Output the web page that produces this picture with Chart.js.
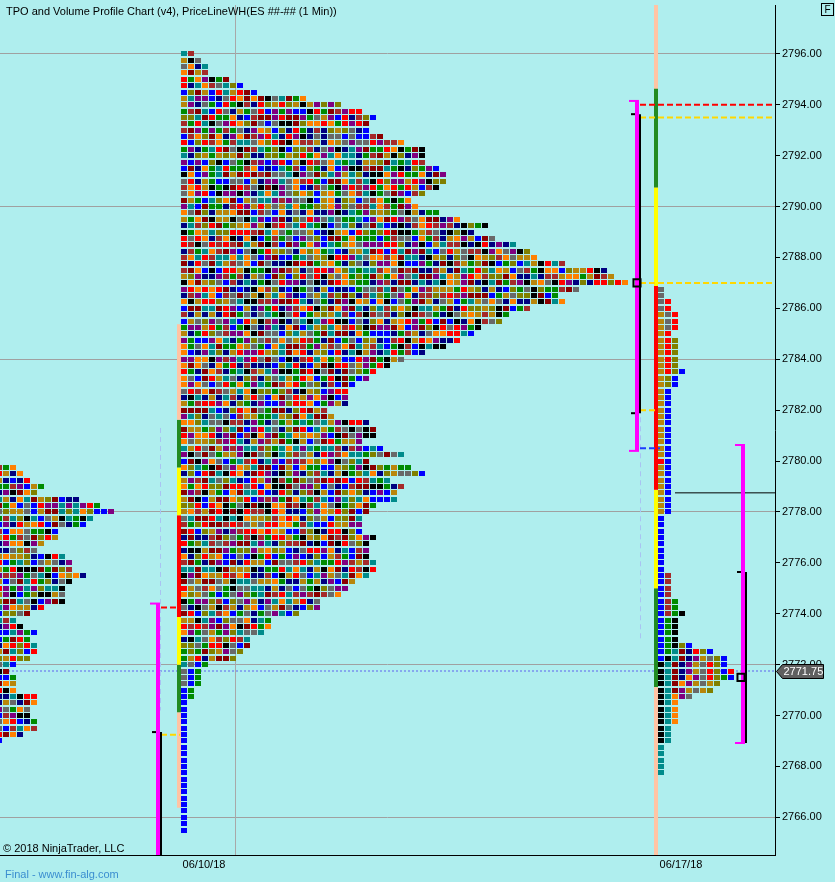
<!DOCTYPE html>
<html><head><meta charset="utf-8">
<script src="https://cdn.jsdelivr.net/npm/chart.js@4.4.0/dist/chart.umd.min.js"></script>
<style>
html,body{margin:0;padding:0;background:#AFEEEE;}
#wrap{position:relative;width:835px;height:882px;overflow:hidden;}
canvas{display:block;}
.t{position:absolute;font-family:"Liberation Sans",Arial,sans-serif;font-size:11px;white-space:nowrap;line-height:13px;color:#000;}
</style></head><body>
<div id="wrap"><canvas id="c" width="835" height="882"></canvas>
<div class="t" style="left:6px;top:5px;">TPO and Volume Profile Chart (v4), PriceLineWH(ES ##-## (1 Min))</div>
<div class="t" style="left:3px;top:842px;">© 2018 NinjaTrader, LLC</div>
<div class="t" style="left:5px;top:868px;color:#3B8ED0;">Final - www.fin-alg.com</div>
<div class="t" style="left:821px;top:3px;width:11px;height:11px;border:1px solid #000;text-align:center;line-height:11px;font-size:10px;">F</div>
</div>
<script>
// ---------------- DATA ----------------
const TICK = 0.25;
const xLabels = ['06/10/18', '06/17/18'];

// previous session (left, partly off-screen)
const leftTop = 2779.75;
const leftCounts = [3,4,5,7,6,12,15,17,14,13,9,9,7,6,10,11,11,13,11,10,10,10,7,5,3,4,6,5,6,6,5,3,2,3,3,3,6,6,5,5,6,6,4,1];

// 06/10 session (big profile)
const bigTop = 2796.0;
const bigCounts = [
  2,3,4,4,7,9,11,18,23,26,28,27,27,29,32,35,35,35,37,38,38,37,35,33,
  34,37,40,44,42,45,48,50,51,55,61,62,64,57,54,55,50,47,46,43,42,
  40,38,35,32,30,28,27,25,24,24,
  24,21,22,27,28,28,26,29,32,27,33,35,30,32,31,31,28,27,26,26,26,28,27,27,27,28,28,27,25,24,23,20,20,17,13,13,12,10,10,9,8,4,
  3,3,3,2,2,1,1,1,1,1,1,1,1,1,1,1,1,1,1,1,1,1,1,1,1,1
];

// 06/17 session (right profile)
const rightTop = 2786.75;
const rightCounts = [1,1,2,2,3,3,3,2,3,3,3,3,3,4,3,3,2,2,2,2,2,2,2,2,2,2,2,2,2,2,2,2,2,2,2,2,1,1,1,1,1,1,1,1,1,2,2,2,2,3,3,4,3,3,3,3,5,8,10,10,11,11,9,8,5,3,3,3,3,2,2,2,1,1,1,1,1];

// value-area / IB bars: boundaries (price) for each session
const bigBarLevels = [2785.375, 2781.625, 2779.75, 2777.875, 2773.875, 2772.0, 2770.125, 2766.375];
const rightBarLevels = [2794.625, 2790.75, 2786.875, 2778.875, 2775.0, 2771.125];

// range brackets [left, middle, right]
const rangeHigh = [2774.4, 2794.15, 2780.63];
const rangeLow  = [2764.0, 2780.4, 2768.92];
const ibHigh    = [2769.35, 2793.63, 2775.64];
const ibLow     = [2764.0, 2781.88, 2768.92];
const closeMark = [null, 2787.0, 2771.5];

// levels
const levelRed = [2774.25, 2794.0];
const levelGold = [2769.25, 2793.5, 2787.0, 2782.0];
const levelBlue = [2780.5];
const priceLineWH = 2778.75;
const lastPrice = 2771.75;

// ---------------- STYLE / LAYOUT ----------------
const Y_MIN = 2764.52, Y_MAX = 2797.92;
const SLOT = 7;                 // px per TPO slot
const X_MAX = 775 / SLOT;
const sl = px => px / SLOT;     // layout px -> slot units
const SESSION_START = { left: sl(-4), big: sl(181), right: sl(658) };
const CELL_CENTER = 3 / SLOT;
const X_TICK_SLOTS = [sl(204), sl(681)];

const PAL = {K:'#000000',T:'#008B8B',D:'#8B0000',N:'#000080',P:'#800080',G:'#B8860B',Y:'#696969',R:'#FF0000',O:'#808000',B:'#0000FF',W:'#A52A2A',E:'#008B00',A:'#FF8000'};
const HKEYS = 'KTDNPGYROBWEA'.split('');
const rightColorCodes = ['Y','Y','YR','YR','GYR','GYR','GYR','GR','GRO','GRO','GRO','GRO','GRO','GROB','GOB','GOB',
 'GB','GB','GB','GB','GB','GB','GB','GB','GB','GB','GB','RB','GB','GB','GB','GB','GB','GB','GB','GB',
 'B','B','B','B','B','B','B','B','B','BW','BW','BW','BW','BWE','BWE','BWEK','BEK','BEK','BEK','BEK','BEKOB',
 'BETDNROB','BKTDNPGYOB','KTDNPGYROB','KTDNPGYROBR','KTDNAPYROEB','KTDAPGYGO','KTDPGYGO','KTAPY','KTA','KTA','KTA','KTA',
 'KT','KT','KT','T','T','T','T','T'];
const TAIL = ['T','Y','B','E'];
const PEACH = '#FFC4A4', VGREEN = '#228B22', VYEL = '#FFFF00', VRED = '#FF0000', MAG = '#FF00FF', GOLD = '#FFD700';

function hashKey(seed, r, c) {
  let h = (Math.imul(seed + 11, 374761393) + Math.imul(r + 3, 668265263) + Math.imul(c + 5, 2246822519 | 0)) | 0;
  h = Math.imul(h ^ (h >>> 13), 1274126177);
  h ^= h >>> 16;
  return HKEYS[(h >>> 0) % HKEYS.length];
}

const IMG = {};
Object.keys(PAL).forEach(k => {
  const cv = document.createElement('canvas'); cv.width = 6; cv.height = 5;
  const g = cv.getContext('2d'); g.fillStyle = PAL[k]; g.fillRect(0, 0, 6, 5);
  IMG[k] = cv;
});

function buildProfile(top, counts, start, colorFn) {
  const pts = [], keys = [];
  counts.forEach((n, i) => {
    const price = top - i * TICK;
    for (let c = 0; c < n; c++) {
      pts.push({ x: start + c + CELL_CENTER, y: price });
      keys.push(colorFn(i, c, n, price));
    }
  });
  return { pts, keys };
}

const leftP = buildProfile(leftTop, leftCounts, SESSION_START.left, (i, c) => hashKey(1, i, c));
const bigP = buildProfile(bigTop, bigCounts, SESSION_START.big, (i, c, n, p) => {
  if (p <= 2772.0 && n === 1) return 'B';
  if (p <= 2772.0 && n <= 4) return TAIL[TAIL.length - n + c];
  return hashKey(2, i, c);
});
const rightP = buildProfile(rightTop, rightCounts, SESSION_START.right, (i, c) => (rightColorCodes[i] || 'B')[c] || 'B');

function cellDataset(P) {
  return {
    type: 'scatter', data: P.pts, order: 5,
    pointStyle: ctx => (ctx.dataIndex !== undefined ? IMG[P.keys[ctx.dataIndex]] : 'rect'),
    pointRadius: 3, pointHoverRadius: 3, borderWidth: 0
  };
}

function seg(x1, y1, x2, y2, color, width, dash, order) {
  return { type: 'line', showLine: true, data: [{ x: x1, y: y1 }, { x: x2, y: y2 }],
    borderColor: color, borderWidth: width, borderDash: dash || [], pointRadius: 0, pointHoverRadius: 0,
    fill: false, tension: 0, borderCapStyle: 'butt', order: order === undefined ? 1 : order };
}

const datasets = [];
// background lines
datasets.push(seg(sl(235.5), Y_MAX, sl(235.5), Y_MIN, '#A8A8A8', 1, [], 20));
datasets.push(seg(sl(656), Y_MAX, sl(656), Y_MIN, PEACH, 4, [], 19));
datasets.push(seg(0, lastPrice, X_MAX, lastPrice, '#86A8EE', 2, [2, 2], 18));
datasets.push(seg(sl(160.5), 2781.3, sl(160.5), 2770.2, '#A9C3F2', 1, [5, 4], 17));
datasets.push(seg(sl(640.5), 2789.5, sl(640.5), 2772.9, '#A9C3F2', 1, [5, 4], 17));

// TPO cells
datasets.push(cellDataset(leftP));
datasets.push(cellDataset(bigP));
datasets.push(cellDataset(rightP));

// VA / IB bars
const bigBarColors = [PEACH, VGREEN, VYEL, VRED, VYEL, VGREEN, PEACH];
for (let i = 0; i < bigBarLevels.length - 1; i++)
  datasets.push(seg(sl(179), bigBarLevels[i], sl(179), bigBarLevels[i + 1], bigBarColors[i], 4, [], 2));
const rightBarColors = [VGREEN, VYEL, VRED, VYEL, VGREEN];
for (let i = 0; i < rightBarLevels.length - 1; i++)
  datasets.push(seg(sl(656), rightBarLevels[i], sl(656), rightBarLevels[i + 1], rightBarColors[i], 4, [], 2));

// brackets
const magX = [158, 637, 743], blkX = [161, 640, 746];
for (let i = 0; i < 3; i++) {
  datasets.push(seg(sl(magX[i]), rangeHigh[i], sl(magX[i]), rangeLow[i], MAG, 4, [], 1));
  datasets.push(seg(sl(magX[i] - 8), rangeHigh[i], sl(magX[i] + 2), rangeHigh[i], MAG, 2, [], 1));
  datasets.push(seg(sl(magX[i] - 8), rangeLow[i], sl(magX[i] + 2), rangeLow[i], MAG, 2, [], 1));
  datasets.push(seg(sl(blkX[i]), ibHigh[i], sl(blkX[i]), ibLow[i], '#000', 2, [], 1));
  datasets.push(seg(sl(blkX[i] - 9), ibHigh[i], sl(blkX[i] - 1), ibHigh[i], '#000', 2, [], 1));
  datasets.push(seg(sl(blkX[i] - 9), ibLow[i], sl(blkX[i] - 1), ibLow[i], '#000', 2, [], 1));
}
datasets.push({ type: 'scatter', order: 0,
  data: [{ x: sl(637), y: closeMark[1] }, { x: sl(741), y: closeMark[2] }],
  pointStyle: 'rect', pointRadius: 5, pointHoverRadius: 5, borderColor: '#000', borderWidth: 2, backgroundColor: 'rgba(0,0,0,0)' });

// levels
datasets.push(seg(sl(161), levelRed[0], sl(176), levelRed[0], VRED, 2, [6, 3], 1));
datasets.push(seg(sl(640), levelRed[1], X_MAX, levelRed[1], VRED, 2, [6, 3], 1));
datasets.push(seg(sl(161), levelGold[0], sl(180), levelGold[0], GOLD, 2, [6, 3], 1));
datasets.push(seg(sl(640), levelGold[1], X_MAX, levelGold[1], GOLD, 2, [6, 3], 1));
datasets.push(seg(sl(640), levelGold[2], X_MAX, levelGold[2], GOLD, 2, [6, 3], 1));
datasets.push(seg(sl(640), levelGold[3], sl(658), levelGold[3], GOLD, 2, [6, 3], 1));
datasets.push(seg(sl(640), levelBlue[0], sl(660), levelBlue[0], '#1E3CFF', 2, [6, 3], 1));
datasets.push(seg(sl(675), priceLineWH, X_MAX, priceLineWH, '#000', 1, [], 1));

const markerPlugin = {
  id: 'lastPriceMarker',
  afterDraw(chart) {
    const y = Math.round(chart.scales.y.getPixelForValue(lastPrice)) + 0.5;
    const x0 = chart.chartArea.right + 1.5;
    const ctx = chart.ctx;
    ctx.save();
    ctx.beginPath();
    ctx.moveTo(x0, y);
    ctx.lineTo(x0 + 6, y - 7);
    ctx.lineTo(x0 + 47, y - 7);
    ctx.lineTo(x0 + 47, y + 7);
    ctx.lineTo(x0 + 6, y + 7);
    ctx.closePath();
    ctx.fillStyle = '#5F5F5F'; ctx.fill();
    ctx.strokeStyle = '#000'; ctx.lineWidth = 1; ctx.stroke();
    ctx.fillStyle = '#fff';
    ctx.font = '11px "Liberation Sans", Arial, sans-serif';
    ctx.textBaseline = 'middle';
    ctx.fillText(lastPrice.toFixed(2), x0 + 7, y + 0.5);
    ctx.restore();
  }
};

Chart.defaults.font.family = '"Liberation Sans", Arial, sans-serif';
Chart.defaults.font.size = 11;

new Chart(document.getElementById('c'), {
  type: 'scatter',
  data: { datasets },
  options: {
    responsive: false, animation: false, events: [],
    layout: { autoPadding: false, padding: { top: 5, left: 0, right: 0, bottom: 0 } },
    plugins: { legend: { display: false }, tooltip: { enabled: false } },
    scales: {
      x: {
        type: 'linear', position: 'bottom', min: 0, max: X_MAX,
        grid: { display: false, drawTicks: false },
        border: { display: true, color: '#000', width: 1 },
        ticks: { autoSkip: false, maxRotation: 0, padding: 3, color: '#000', font: { size: 11 },
          callback: (v, i) => xLabels[i] || '' },
        afterBuildTicks: s => { s.ticks = X_TICK_SLOTS.map(v => ({ value: v })); },
        afterFit: s => { s.height = 27; s.paddingLeft = 0; s.paddingRight = 0; s.paddingTop = 0; s.paddingBottom = 0; }
      },
      y: {
        type: 'linear', position: 'right', min: Y_MIN, max: Y_MAX,
        grid: {
          color: c => (c.tick && Math.abs(c.tick.value % 6) < 1e-6) ? '#A0A0A0' : 'rgba(0,0,0,0)',
          tickColor: '#000', tickLength: 5, drawTicks: true, lineWidth: 1
        },
        border: { display: true, color: '#000', width: 1 },
        ticks: { stepSize: 2, includeBounds: false, padding: 2, color: '#000', font: { size: 11 },
          callback: v => Number(v).toFixed(2) },
        afterFit: s => { s.width = 60; s.paddingTop = 0; s.paddingBottom = 0; s.paddingLeft = 0; s.paddingRight = 0; }
      }
    }
  },
  plugins: [markerPlugin]
});
</script>
</body></html>
